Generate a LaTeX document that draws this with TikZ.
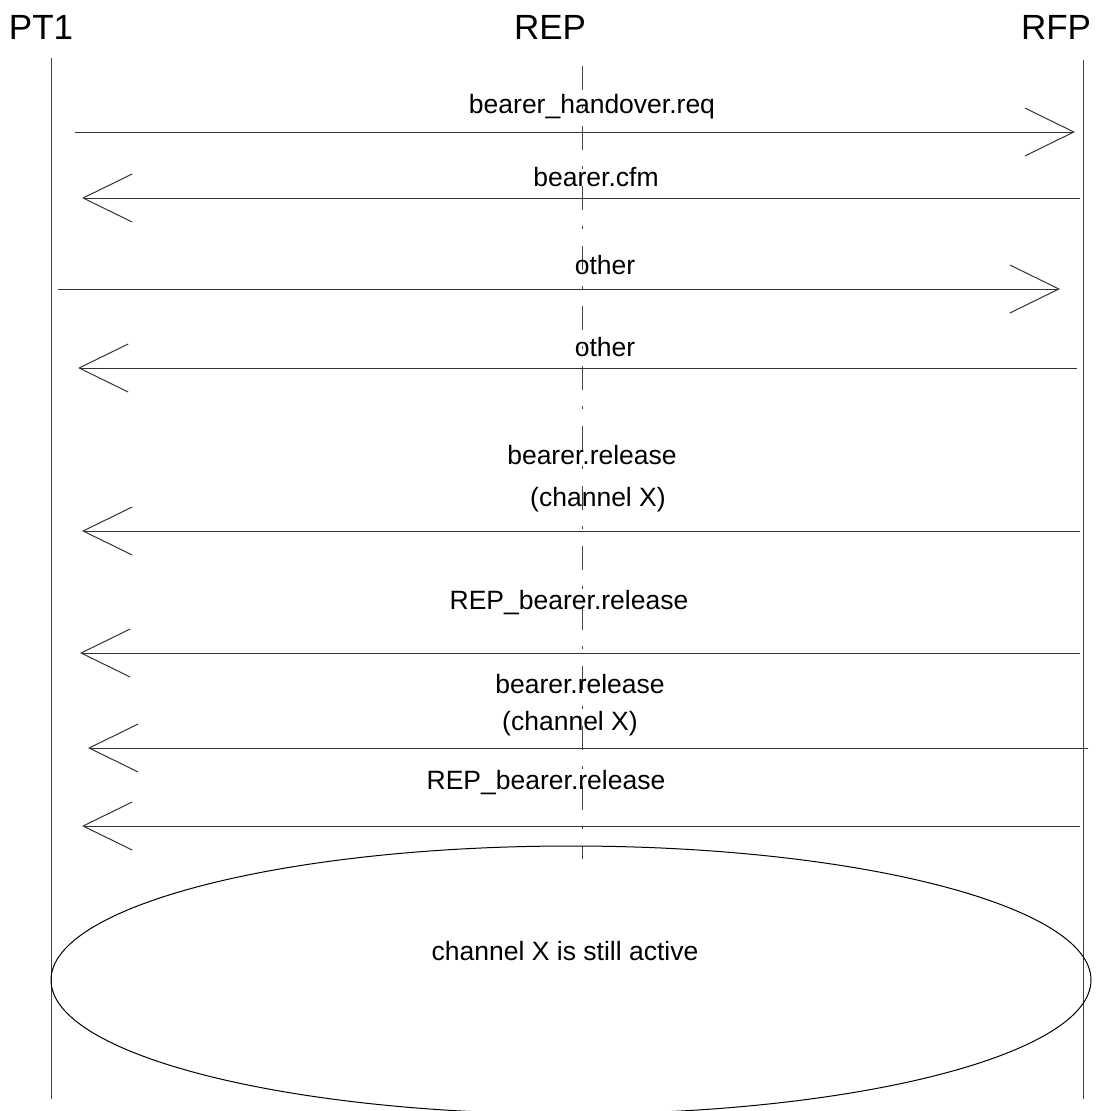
\documentclass[tikz,border=0pt]{standalone}
\usepackage{fontspec}
\setmainfont{Liberation Sans}
\usetikzlibrary{arrows.meta,shapes.geometric}
\begin{document}
\begin{tikzpicture}[
    x=1pt, y=-1pt,
    head/.style={font=\fontsize{35}{40}\selectfont, inner sep=0pt},
    lbl/.style={font=\fontsize{26.5}{30}\selectfont, anchor=base, inner sep=0pt},
    life/.style={line width=1pt, black!75},
    replife/.style={line width=1pt, black!75, dash pattern=on 24pt off 16pt on 3pt off 17pt},
    msg/.style={line width=1pt, black!80, -{Straight Barb[length=49pt, width=48pt, line width=1pt]}},
]
\useasboundingbox (0,0) rectangle (1098,1111);

% Lifelines
\node[head] (pt1) at (41, 27) {PT1};
\node[head] (rep) at (550, 27) {REP};
\node[head] (rfp) at (1056, 27) {RFP};

\coordinate (pt1-top) at (51, 58);
\coordinate (pt1-bot) at (51, 1099);
\coordinate (rep-top) at (582, 66);
\coordinate (rep-bot) at (582, 859);
\coordinate (rfp-top) at (1083, 60);
\coordinate (rfp-bot) at (1083, 1099);

\draw[life] (pt1-top) -- (pt1-bot);
\draw[life] (rfp-top) -- (rfp-bot);
\draw[replife] (rep-top) -- (rep-bot);

% Messages
\coordinate (req-s) at (75, 132);   \coordinate (req-e) at (1075, 132);
\coordinate (cfm-s) at (1080, 198); \coordinate (cfm-e) at (82, 198);
\coordinate (oth1-s) at (58, 289);  \coordinate (oth1-e) at (1060, 289);
\coordinate (oth2-s) at (1077, 368); \coordinate (oth2-e) at (78, 368);
\coordinate (rel1-s) at (1080, 531); \coordinate (rel1-e) at (82, 531);
\coordinate (reprel1-s) at (1080, 653); \coordinate (reprel1-e) at (80, 653);
\coordinate (rel2-s) at (1088, 748); \coordinate (rel2-e) at (88, 748);
\coordinate (reprel2-s) at (1080, 826); \coordinate (reprel2-e) at (82, 826);

\draw[msg] (req-s) -- (req-e);
\draw[msg] (cfm-s) -- (cfm-e);
\draw[msg] (oth1-s) -- (oth1-e);
\draw[msg] (oth2-s) -- (oth2-e);
\draw[msg] (rel1-s) -- (rel1-e);
\draw[msg] (reprel1-s) -- (reprel1-e);
\draw[msg] (rel2-s) -- (rel2-e);
\draw[msg] (reprel2-s) -- (reprel2-e);

% Labels
\node[lbl] (req) at (592, 113) {bearer\_handover.req};
\node[lbl] (cfm) at (596, 186) {bearer.cfm};
\node[lbl] (oth1) at (605, 274) {other};
\node[lbl] (oth2) at (605, 356) {other};
\node[lbl] (rel1) at (592, 464) {bearer.release};
\node[lbl] (rel1x) at (598, 506) {(channel X)};
\node[lbl] (reprel1) at (569, 609) {REP\_bearer.release};
\node[lbl] (rel2) at (580, 693) {bearer.release};
\node[lbl] (rel2x) at (570, 730) {(channel X)};
\node[lbl] (reprel2) at (546, 789) {REP\_bearer.release};

% Channel state
\node[ellipse, draw, line width=1pt, minimum width=1040pt, minimum height=268pt, inner sep=0pt] (state) at (571, 980) {};
\node[lbl, anchor=center] (statetxt) at (565, 951) {channel X is still active};
\end{tikzpicture}
\end{document}
